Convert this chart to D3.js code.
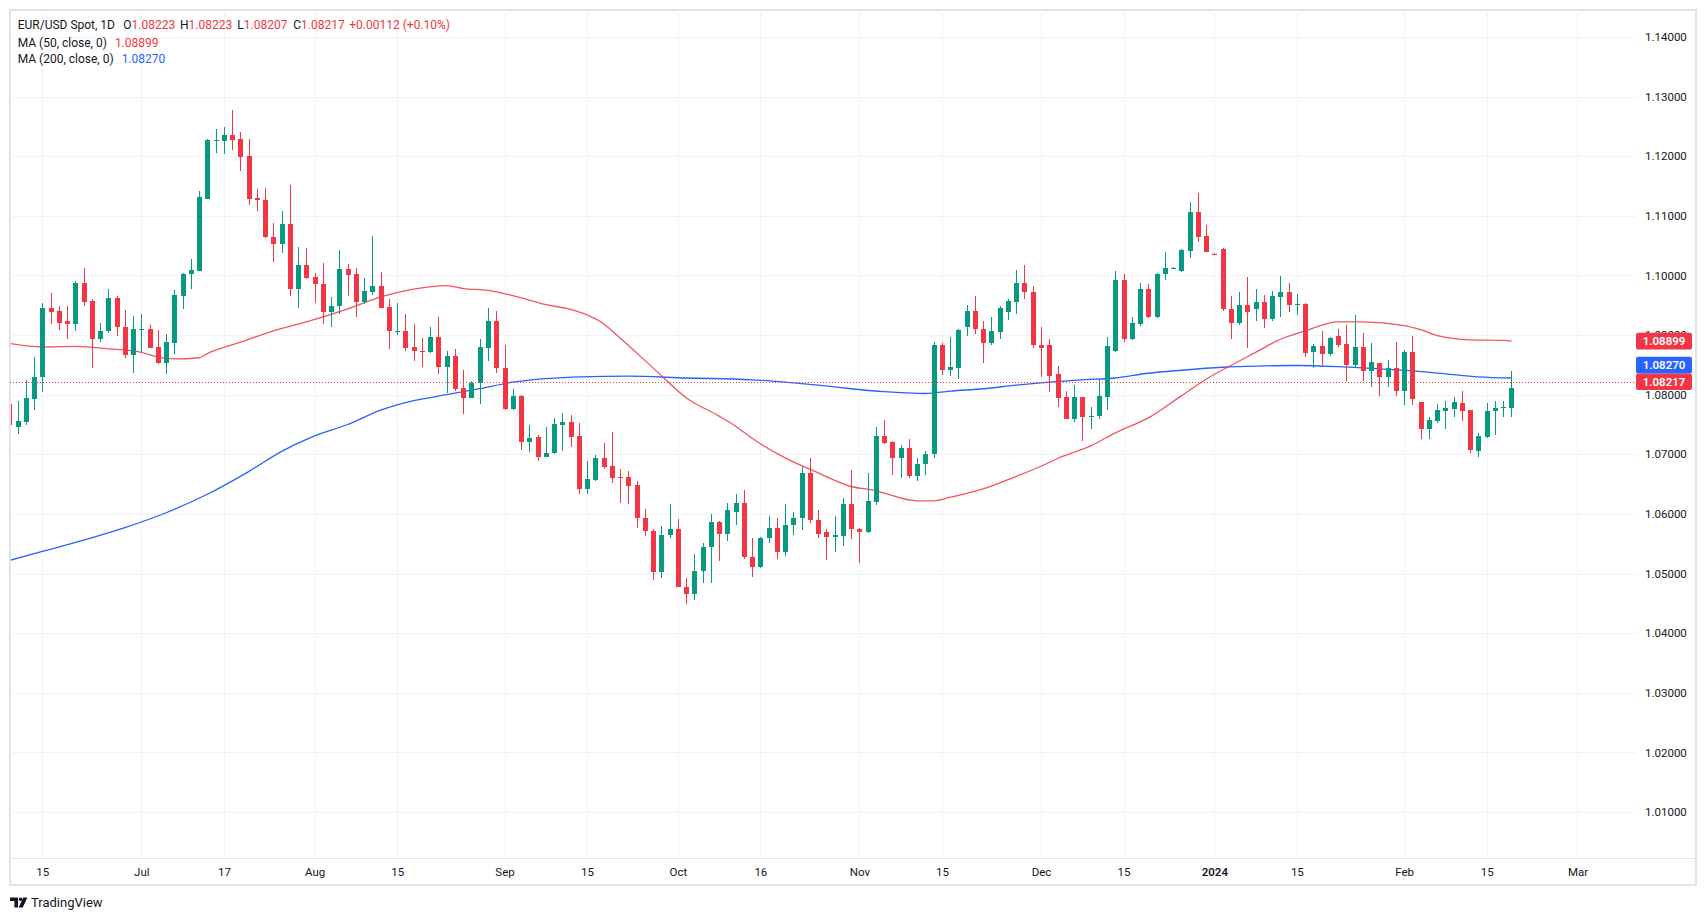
<!DOCTYPE html>
<html>
<head>
<meta charset="utf-8">
<style>
    body { margin: 0; background: #fff; }
    text { font-family: Roboto, "Liberation Sans", sans-serif; }
    .axis text { fill: #131722; font-size: 11.5px; }
    .axis .domain { display: none; }
</style>
</head>
<body>
<svg width="1706" height="921" class="chart"></svg>
<script src="https://cdn.jsdelivr.net/npm/d3@7/dist/d3.min.js"></script>
<script>
// trading days (weekdays) from the first partly visible candle to the right edge
const firstDay = "2023-06-09", lastDay = "2024-03-14";

// daily OHLC, one entry per weekday starting 2023-06-09, ending 2024-02-20
const open = [
    1.0785, 1.0746, 1.0754, 1.0793, 1.0829, 1.0946, 1.0941, 1.0924, 1.0918, 1.0988,
    1.0957, 1.0893, 1.0906, 1.0962, 1.0914, 1.0867, 1.0910, 1.0911, 1.0880, 1.0854,
    1.0887, 1.0966, 1.1002, 1.1008, 1.1129, 1.1227, 1.1226, 1.1236, 1.1229, 1.1201,
    1.1130, 1.1127, 1.1064, 1.1052, 1.1087, 1.0978, 1.1018, 1.0998, 1.0986, 1.0938,
    1.0949, 1.1010, 1.1003, 1.0955, 1.0973, 1.0983, 1.0947, 1.0906, 1.0907, 1.0880,
    1.0874, 1.0871, 1.0897, 1.0846, 1.0865, 1.0812, 1.0795, 1.0819, 1.0879, 1.0924,
    1.0845, 1.0776, 1.0797, 1.0721, 1.0729, 1.0696, 1.0702, 1.0750, 1.0755, 1.0731,
    1.0642, 1.0657, 1.0693, 1.0681, 1.0662, 1.0662, 1.0648, 1.0594, 1.0572, 1.0502,
    1.0564, 1.0574, 1.0478, 1.0466, 1.0504, 1.0545, 1.0587, 1.0566, 1.0604, 1.0619,
    1.0528, 1.0511, 1.0559, 1.0577, 1.0536, 1.0581, 1.0593, 1.0669, 1.0590, 1.0569,
    1.0561, 1.0563, 1.0616, 1.0575, 1.0569, 1.0620, 1.0731, 1.0720, 1.0693, 1.0710,
    1.0663, 1.0684, 1.0700, 1.0883, 1.0841, 1.0844, 1.0913, 1.0941, 1.0911, 1.0887,
    1.0905, 1.0938, 1.0955, 1.0988, 1.0973, 1.0884, 1.0884, 1.0834, 1.0796, 1.0760,
    1.0796, 1.0762, 1.0764, 1.0796, 1.0873, 1.0993, 1.0893, 1.0918, 1.0978, 1.0930,
    1.1002, 1.1012, 1.1007, 1.1041, 1.1106, 1.1066, 1.1036, 1.1045, 1.0944, 1.0921,
    1.0950, 1.0943, 1.0955, 1.0927, 1.0964, 1.0972, 1.0950, 1.0952, 1.0872, 1.0882,
    1.0869, 1.0898, 1.0885, 1.0850, 1.0880, 1.0839, 1.0853, 1.0830, 1.0845, 1.0807,
    1.0872, 1.0787, 1.0743, 1.0756, 1.0773, 1.0776, 1.0786, 1.0774, 1.0706, 1.0729,
    1.0772, 1.0778, 1.0778
];
const high = [
    1.0790, 1.0789, 1.0824, 1.0864, 1.0954, 1.0971, 1.0948, 1.0948, 1.0991, 1.1013,
    1.0961, 1.0921, 1.0978, 1.0965, 1.0942, 1.0932, 1.0936, 1.0917, 1.0909, 1.0902,
    1.0975, 1.1004, 1.1028, 1.1141, 1.1229, 1.1246, 1.1249, 1.1277, 1.1241, 1.1229,
    1.1145, 1.1147, 1.1088, 1.1108, 1.1151, 1.1048, 1.1046, 1.1004, 1.1021, 1.0964,
    1.1043, 1.1020, 1.1013, 1.0996, 1.1067, 1.1006, 1.0961, 1.0954, 1.0936, 1.0919,
    1.0895, 1.0914, 1.0931, 1.0873, 1.0877, 1.0842, 1.0823, 1.0894, 1.0946, 1.0941,
    1.0884, 1.0810, 1.0800, 1.0750, 1.0733, 1.0745, 1.0761, 1.0770, 1.0766, 1.0753,
    1.0689, 1.0699, 1.0719, 1.0738, 1.0676, 1.0672, 1.0656, 1.0609, 1.0574, 1.0579,
    1.0617, 1.0592, 1.0493, 1.0532, 1.0552, 1.0600, 1.0588, 1.0619, 1.0634, 1.0640,
    1.0559, 1.0562, 1.0596, 1.0594, 1.0617, 1.0604, 1.0678, 1.0694, 1.0607, 1.0574,
    1.0597, 1.0626, 1.0674, 1.0577, 1.0668, 1.0746, 1.0757, 1.0723, 1.0716, 1.0725,
    1.0693, 1.0706, 1.0888, 1.0886, 1.0896, 1.0910, 1.0951, 1.0965, 1.0923, 1.0931,
    1.0948, 1.0960, 1.1009, 1.1017, 1.0983, 1.0913, 1.0894, 1.0848, 1.0806, 1.0817,
    1.0796, 1.0779, 1.0827, 1.0896, 1.1008, 1.1003, 1.0931, 1.0987, 1.0985, 1.1004,
    1.1040, 1.1014, 1.1045, 1.1123, 1.1139, 1.1084, 1.1037, 1.1046, 1.0965, 1.0972,
    1.0998, 1.0978, 1.0968, 1.0974, 1.0999, 1.0987, 1.0969, 1.0953, 1.0885, 1.0907,
    1.0896, 1.0910, 1.0917, 1.0934, 1.0903, 1.0887, 1.0854, 1.0858, 1.0888, 1.0875,
    1.0898, 1.0788, 1.0763, 1.0784, 1.0789, 1.0796, 1.0806, 1.0775, 1.0736, 1.0786,
    1.0789, 1.0790, 1.0840
];
const low = [
    1.0745, 1.0734, 1.0750, 1.0774, 1.0805, 1.0919, 1.0909, 1.0894, 1.0907, 1.0949,
    1.0845, 1.0889, 1.0904, 1.0898, 1.0862, 1.0837, 1.0871, 1.0878, 1.0851, 1.0835,
    1.0868, 1.0944, 1.0978, 1.1007, 1.1129, 1.1206, 1.1204, 1.1210, 1.1175, 1.1119,
    1.1108, 1.1063, 1.1022, 1.1038, 1.0966, 1.0945, 1.0994, 1.0954, 1.0919, 1.0914,
    1.0936, 1.0966, 1.0931, 1.0952, 1.0968, 1.0945, 1.0876, 1.0900, 1.0873, 1.0857,
    1.0847, 1.0870, 1.0834, 1.0803, 1.0807, 1.0767, 1.0795, 1.0784, 1.0857, 1.0837,
    1.0774, 1.0774, 1.0708, 1.0704, 1.0688, 1.0695, 1.0701, 1.0706, 1.0713, 1.0634,
    1.0634, 1.0656, 1.0676, 1.0652, 1.0619, 1.0617, 1.0576, 1.0563, 1.0489, 1.0492,
    1.0559, 1.0477, 1.0449, 1.0455, 1.0484, 1.0484, 1.0521, 1.0555, 1.0581, 1.0525,
    1.0495, 1.0510, 1.0552, 1.0524, 1.0530, 1.0565, 1.0573, 1.0584, 1.0559, 1.0522,
    1.0536, 1.0547, 1.0558, 1.0517, 1.0568, 1.0615, 1.0718, 1.0665, 1.0660, 1.0660,
    1.0656, 1.0665, 1.0694, 1.0833, 1.0831, 1.0826, 1.0898, 1.0901, 1.0853, 1.0883,
    1.0894, 1.0925, 1.0935, 1.0960, 1.0879, 1.0829, 1.0804, 1.0779, 1.0759, 1.0755,
    1.0723, 1.0742, 1.0760, 1.0774, 1.0872, 1.0889, 1.0891, 1.0915, 1.0929, 1.0929,
    1.0993, 1.1011, 1.1006, 1.1029, 1.1056, 1.1039, 1.1034, 1.0940, 1.0893, 1.0917,
    1.0879, 1.0924, 1.0912, 1.0924, 1.0931, 1.0938, 1.0934, 1.0864, 1.0845, 1.0849,
    1.0865, 1.0880, 1.0823, 1.0847, 1.0823, 1.0813, 1.0797, 1.0813, 1.0797, 1.0782,
    1.0782, 1.0725, 1.0725, 1.0753, 1.0743, 1.0763, 1.0756, 1.0703, 1.0696, 1.0727,
    1.0733, 1.0763, 1.0763
];
const close = [
    1.0750, 1.0756, 1.0794, 1.0829, 1.0946, 1.0939, 1.0921, 1.0918, 1.0988, 1.0956,
    1.0893, 1.0907, 1.0962, 1.0913, 1.0867, 1.0910, 1.0911, 1.0879, 1.0854, 1.0888,
    1.0967, 1.1003, 1.1009, 1.1132, 1.1227, 1.1228, 1.1236, 1.1228, 1.1199, 1.1129,
    1.1126, 1.1065, 1.1052, 1.1087, 1.0978, 1.1018, 1.0996, 1.0985, 1.0938, 1.0949,
    1.1010, 1.1001, 1.0956, 1.0974, 1.0983, 1.0946, 1.0906, 1.0907, 1.0879, 1.0873,
    1.0872, 1.0897, 1.0846, 1.0865, 1.0810, 1.0795, 1.0820, 1.0880, 1.0924, 1.0844,
    1.0776, 1.0797, 1.0721, 1.0728, 1.0696, 1.0703, 1.0751, 1.0755, 1.0729, 1.0642,
    1.0659, 1.0693, 1.0679, 1.0661, 1.0660, 1.0647, 1.0593, 1.0571, 1.0502, 1.0565,
    1.0574, 1.0477, 1.0466, 1.0505, 1.0545, 1.0587, 1.0566, 1.0606, 1.0619, 1.0527,
    1.0511, 1.0560, 1.0577, 1.0536, 1.0582, 1.0594, 1.0669, 1.0589, 1.0566, 1.0561,
    1.0564, 1.0616, 1.0574, 1.0569, 1.0622, 1.0731, 1.0719, 1.0693, 1.0710, 1.0663,
    1.0684, 1.0700, 1.0883, 1.0841, 1.0846, 1.0908, 1.0941, 1.0910, 1.0887, 1.0906,
    1.0945, 1.0957, 1.0988, 1.0972, 1.0883, 1.0878, 1.0832, 1.0794, 1.0760, 1.0796,
    1.0762, 1.0765, 1.0797, 1.0881, 1.0993, 1.0893, 1.0920, 1.0978, 1.0930, 1.1003,
    1.1012, 1.1013, 1.1043, 1.1106, 1.1064, 1.1039, 1.1035, 1.0943, 1.0921, 1.0950,
    1.0939, 1.0955, 1.0927, 1.0965, 1.0972, 1.0951, 1.0952, 1.0870, 1.0882, 1.0869,
    1.0895, 1.0884, 1.0849, 1.0880, 1.0839, 1.0855, 1.0830, 1.0845, 1.0807, 1.0872,
    1.0793, 1.0743, 1.0758, 1.0774, 1.0778, 1.0788, 1.0773, 1.0708, 1.0730, 1.0773,
    1.0778, 1.0779, 1.0811
];

// moving averages at a few dates
const ma50Dates = ["2023-06-09","2023-06-15","2023-06-21","2023-06-27","2023-07-03","2023-07-05","2023-07-07","2023-07-12","2023-07-13","2023-07-19","2023-07-25","2023-07-31","2023-08-07","2023-08-11","2023-08-17","2023-08-23","2023-08-25","2023-08-30","2023-09-04","2023-09-08","2023-09-13","2023-09-19","2023-09-21","2023-09-27","2023-10-03","2023-10-09","2023-10-11","2023-10-13","2023-10-19","2023-10-25","2023-10-31","2023-11-03","2023-11-06","2023-11-10","2023-11-14","2023-11-16","2023-11-22","2023-11-28","2023-12-01","2023-12-05","2023-12-11","2023-12-14","2023-12-20","2023-12-26","2023-12-29","2024-01-03","2024-01-08","2024-01-11","2024-01-16","2024-01-22","2024-01-25","2024-02-01","2024-02-05","2024-02-07","2024-02-13","2024-02-19","2024-02-20"];
const ma50Values = [1.0886,1.0880,1.0881,1.0877,1.0871,1.0863,1.0860,1.0862,1.0869,1.0888,1.0907,1.0922,1.0944,1.0964,1.0977,1.0983,1.0978,1.0975,1.0966,1.0951,1.0943,1.0919,1.0895,1.0845,1.0795,1.0764,1.0747,1.0727,1.0694,1.0669,1.0646,1.0639,1.0635,1.0622,1.0622,1.0628,1.0642,1.0663,1.0680,1.0693,1.0714,1.0736,1.0761,1.0798,1.0826,1.0849,1.0871,1.0893,1.0907,1.0922,1.0922,1.0916,1.0909,1.0899,1.0892,1.0891,1.0890];
const ma200Dates = ["2023-06-09","2023-06-15","2023-06-22","2023-06-29","2023-07-06","2023-07-13","2023-07-20","2023-07-26","2023-08-01","2023-08-07","2023-08-11","2023-08-17","2023-08-23","2023-08-29","2023-09-04","2023-09-08","2023-09-14","2023-09-22","2023-10-03","2023-10-13","2023-10-19","2023-10-25","2023-10-31","2023-11-06","2023-11-13","2023-11-16","2023-11-22","2023-11-28","2023-12-04","2023-12-08","2023-12-14","2023-12-20","2023-12-26","2024-01-02","2024-01-08","2024-01-15","2024-01-22","2024-01-26","2024-02-02","2024-02-08","2024-02-14","2024-02-20"];
const ma200Values = [1.0522,1.0537,1.0556,1.0577,1.0602,1.0633,1.0671,1.0705,1.0731,1.0750,1.0774,1.0790,1.0800,1.0810,1.0821,1.0827,1.0830,1.0831,1.0828,1.0825,1.0821,1.0816,1.0810,1.0805,1.0802,1.0806,1.0810,1.0816,1.0821,1.0825,1.0828,1.0836,1.0841,1.0846,1.0848,1.0849,1.0847,1.0844,1.0840,1.0835,1.0830,1.0828];

// axis ticks
const priceTicks = [1.01,1.02,1.03,1.04,1.05,1.06,1.07,1.08,1.09,1.10,1.11,1.12,1.13,1.14];
const timeTickDates = ["2023-06-15","2023-07-03","2023-07-17","2023-08-01","2023-08-15","2023-09-01","2023-09-15","2023-10-02","2023-10-16","2023-11-01","2023-11-15","2023-12-01","2023-12-15","2024-01-01","2024-01-15","2024-02-01","2024-02-15","2024-03-01"];
const timeTickLabels = ["15","Jul","17","Aug","15","Sep","15","Oct","16","Nov","15","Dec","15","2024","15","Feb","15","Mar"];

// legend values
const lastPrice = 1.08217;
const ma50Last = 1.08899, ma200Last = 1.08270;
const ohlcLegend = [["O","1.08223"],["H","1.08223"],["L","1.08207"],["C","1.08217"]];
const changeText = "+0.00112 (+0.10%)";

const upColor = "#089981", downColor = "#f23645", blue = "#2962ff";

var svg = d3.select(".chart"),
    plot = {left: 10, right: 1636, top: 10, bottom: 858};

var fmt = d3.timeFormat("%Y-%m-%d"), parse = d3.timeParse("%Y-%m-%d");
var days = d3.timeDay.range(parse(firstDay), parse(lastDay)).filter(function(d) { return d.getDay() % 6 !== 0; });
var idx = new Map(days.map(function(d, i) { return [fmt(d), i]; }));

var x = d3.scaleLinear()
        .domain([idx.get("2023-06-15"), idx.get("2024-02-15")])
        .range([42.3, 1486.7]),
    y = d3.scaleLinear().domain([1.01, 1.14]).range([812, 37]);

// frame
svg.append("rect").attr("x", 10).attr("y", 10).attr("width", 1686).attr("height", 875)
    .attr("fill", "#fff").attr("stroke", "#e0e3eb").attr("stroke-width", 2);

// grid
svg.append("g").selectAll("line").data(priceTicks).enter().append("line")
    .attr("x1", plot.left).attr("x2", plot.right)
    .attr("y1", function(d) { return Math.round(y(d)) + 0.5; })
    .attr("y2", function(d) { return Math.round(y(d)) + 0.5; })
    .attr("stroke", "#f0f3fa");
svg.append("g").selectAll("line").data(timeTickDates).enter().append("line")
    .attr("y1", plot.top).attr("y2", plot.bottom)
    .attr("x1", function(d) { return Math.round(x(idx.get(d))) + 0.5; })
    .attr("x2", function(d) { return Math.round(x(idx.get(d))) + 0.5; })
    .attr("stroke", "#f0f3fa");

svg.append("line").attr("x1", 10).attr("x2", 1696).attr("y1", 858.5).attr("y2", 858.5)
    .attr("stroke", "#e0e3eb");

svg.append("clipPath").attr("id", "clip").append("rect")
    .attr("x", plot.left + 1).attr("y", plot.top + 1)
    .attr("width", plot.right - plot.left - 1).attr("height", plot.bottom - plot.top - 1);
var g = svg.append("g").attr("clip-path", "url(#clip)");

// moving averages
var maLine = d3.line()
    .x(function(d) { return x(idx.get(d[0])); })
    .y(function(d) { return y(d[1]); })
    .curve(d3.curveMonotoneX);
g.append("path").datum(d3.zip(ma200Dates, ma200Values)).attr("d", maLine)
    .attr("fill", "none").attr("stroke", blue).attr("stroke-width", 1.3);
g.append("path").datum(d3.zip(ma50Dates, ma50Values)).attr("d", maLine)
    .attr("fill", "none").attr("stroke", downColor).attr("stroke-opacity", 0.85).attr("stroke-width", 1.3);

// candles
var candles = open.map(function(o, i) { return {i: i, o: o, h: high[i], l: low[i], c: close[i]}; });
var cg = g.append("g").attr("shape-rendering", "crispEdges");
cg.selectAll(".wick").data(candles).enter().append("rect")
    .attr("class", "wick")
    .attr("x", function(d) { return Math.round(x(d.i)); })
    .attr("width", 1)
    .attr("y", function(d) { return Math.round(y(d.h)); })
    .attr("height", function(d) { return Math.max(1, Math.round(y(d.l)) - Math.round(y(d.h))); })
    .attr("fill", function(d) { return d.c >= d.o ? upColor : downColor; });
cg.selectAll(".body").data(candles).enter().append("rect")
    .attr("class", "body")
    .attr("x", function(d) { return Math.round(x(d.i)) - 2; })
    .attr("width", 5)
    .attr("y", function(d) { return Math.round(y(Math.max(d.o, d.c))); })
    .attr("height", function(d) { return Math.max(1, Math.round(y(Math.min(d.o, d.c))) - Math.round(y(Math.max(d.o, d.c)))); })
    .attr("fill", function(d) { return d.c >= d.o ? upColor : downColor; });

// last price line
svg.append("line").attr("x1", plot.left).attr("x2", 1690)
    .attr("y1", Math.round(y(lastPrice)) + 0.5).attr("y2", Math.round(y(lastPrice)) + 0.5)
    .attr("stroke", downColor).attr("stroke-dasharray", "1,2");

// price axis
svg.append("g").attr("class", "axis")
    .attr("transform", "translate(" + plot.right + ",0)")
    .call(d3.axisRight(y).tickValues(priceTicks).tickFormat(d3.format(".5f")).tickSize(0).tickPadding(9));

// time axis
svg.append("g").attr("class", "axis")
    .attr("transform", "translate(0," + plot.bottom + ")")
    .call(d3.axisBottom(x).tickValues(timeTickDates.map(function(d) { return idx.get(d); }))
        .tickFormat(function(d, i) { return timeTickLabels[i]; }).tickSize(0))
    .selectAll("text").attr("y", 14).attr("dy", "0.35em")
    .style("font-weight", function(d, i) { return timeTickLabels[i] === "2024" ? "600" : null; });

// price labels on the axis (blue one pushed above the last price label)
var labelH = 16.6;
var labels = [
    {v: ma50Last, color: downColor, y: y(ma50Last)},
    {v: lastPrice, color: downColor, y: y(lastPrice)},
    {v: ma200Last, color: blue, y: y(ma200Last)}
];
if (Math.abs(labels[2].y - labels[1].y) < labelH) labels[2].y = labels[1].y - labelH;
var lg = svg.append("g");
lg.selectAll("rect").data(labels).enter().append("rect")
    .attr("x", plot.right).attr("width", 56)
    .attr("y", function(d) { return d.y - labelH / 2; }).attr("height", labelH)
    .attr("rx", 2).attr("fill", function(d) { return d.color; });
lg.selectAll("text").data(labels).enter().append("text")
    .attr("x", plot.right + 28).attr("y", function(d) { return d.y; }).attr("dy", "0.35em")
    .attr("text-anchor", "middle").attr("fill", "#fff")
    .style("font-size", "11.5px").style("font-weight", "600")
    .text(function(d) { return d3.format(".5f")(d.v); });

// legend
var leg = svg.append("g").style("font-size", "12px");
var l1 = leg.append("text").attr("x", 17.7).attr("y", 29).attr("fill", "#131722").text("EUR/USD Spot, 1D");
var gx = [123.3, 180, 237.3, 293.3];
ohlcLegend.forEach(function(p, i) {
    var t = leg.append("text").attr("x", gx[i]).attr("y", 29).attr("fill", "#131722");
    t.append("tspan").text(p[0]);
    t.append("tspan").attr("fill", downColor).text(p[1]);
});
leg.append("text").attr("x", 349.3).attr("y", 29).attr("fill", downColor).text(changeText);
leg.append("text").attr("x", 17.7).attr("y", 46.5).attr("fill", "#131722").text("MA (50, close, 0)")
    .append("tspan").attr("dx", 8).attr("fill", downColor).text(d3.format(".5f")(ma50Last));
leg.append("text").attr("x", 17.7).attr("y", 63.2).attr("fill", "#131722").text("MA (200, close, 0)")
    .append("tspan").attr("dx", 8).attr("fill", blue).text(d3.format(".5f")(ma200Last));

// TradingView mark
var logo = svg.append("g").attr("fill", "#131722");
logo.append("path").attr("d", "M10,897.5h8v10h-3.6v-6.6h-4.4z");
logo.append("circle").attr("cx", 20.6).attr("cy", 899.3).attr("r", 1.8);
logo.append("path").attr("d", "M23.2,897.5h4.2l-4.6,10h-4.2z");
logo.append("text").attr("x", 31).attr("y", 907).style("font-size", "13px").text("TradingView");
</script>
</body>
</html>
